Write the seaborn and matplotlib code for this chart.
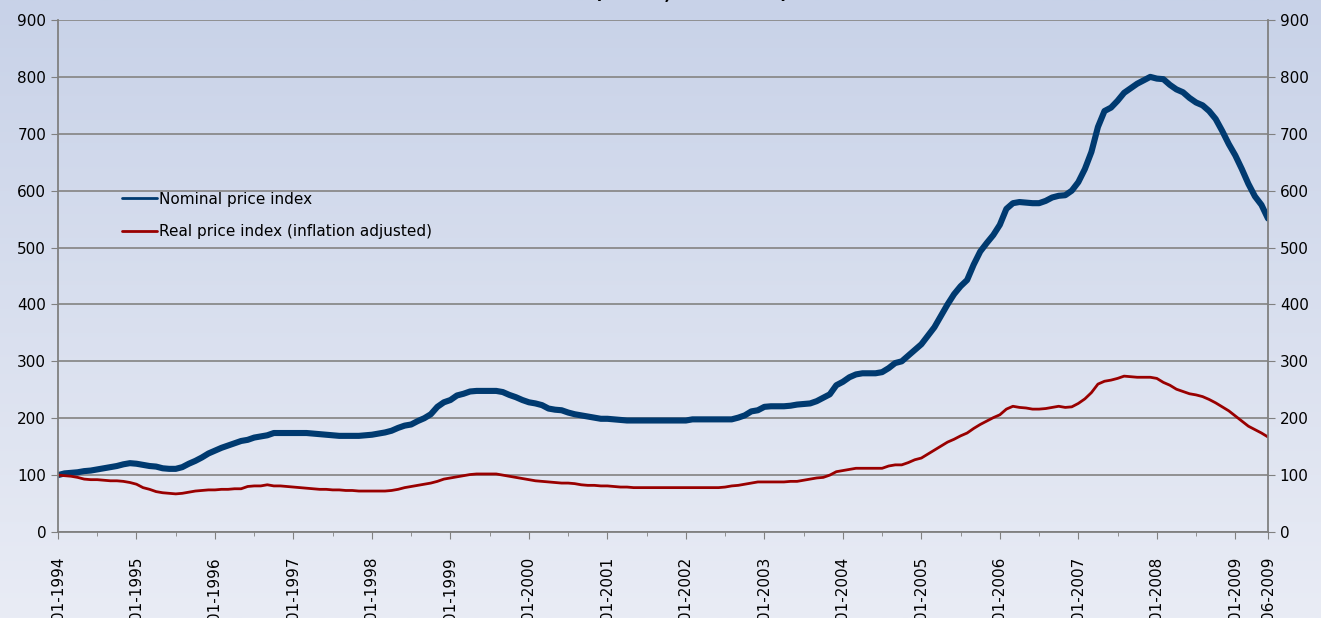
import numpy as np
import pandas as pd
import matplotlib
matplotlib.use("Agg")
import matplotlib.pyplot as plt
import seaborn as sns

# monthly values, 01-1994 .. 06-2009 (index 01-1994 = 100)
nominal = [
    100, 103, 104, 105, 107, 108, 110, 112, 114, 116, 119, 121,   # 1994
    120, 118, 116, 115, 112, 111, 111, 114, 120, 125, 131, 138,   # 1995
    143, 148, 152, 156, 160, 162, 166, 168, 170, 174, 174, 174,   # 1996
    174, 174, 174, 173, 172, 171, 170, 169, 169, 169, 169, 170,   # 1997
    171, 173, 175, 178, 183, 187, 189, 195, 200, 207, 220, 228,   # 1998
    232, 240, 243, 247, 248, 248, 248, 248, 246, 241, 237, 232,   # 1999
    228, 226, 223, 217, 215, 214, 210, 207, 205, 203, 201, 199,   # 2000
    199, 198, 197, 196, 196, 196, 196, 196, 196, 196, 196, 196,   # 2001
    196, 198, 198, 198, 198, 198, 198, 198, 201, 205, 212, 214,   # 2002
    220, 221, 221, 221, 222, 224, 225, 226, 230, 236, 242, 258,   # 2003
    264, 272, 277, 279, 279, 279, 281, 288, 297, 300, 310, 320,   # 2004
    330, 345, 360, 380, 400, 418, 432, 443, 470, 493, 508, 522,   # 2005
    540, 568, 578, 580, 579, 578, 578, 582, 588, 591, 592, 600,   # 2006
    615, 638, 668, 712, 740, 746, 758, 772, 780, 788, 794, 800,   # 2007
    797, 796, 786, 778, 773, 763, 755, 750, 740, 726, 705, 682,   # 2008
    662, 638, 612, 590, 575, 551,                                 # 2009
]
real = [
    100, 99, 98, 96, 93, 92, 92, 91, 90, 90, 89, 87,
    84, 78, 75, 71, 69, 68, 67, 68, 70, 72, 73, 74,
    74, 75, 75, 76, 76, 80, 81, 81, 83, 81, 81, 80,
    79, 78, 77, 76, 75, 75, 74, 74, 73, 73, 72, 72,
    72, 72, 72, 73, 75, 78, 80, 82, 84, 86, 89, 93,
    95, 97, 99, 101, 102, 102, 102, 102, 100, 98, 96, 94,
    92, 90, 89, 88, 87, 86, 86, 85, 83, 82, 82, 81,
    81, 80, 79, 79, 78, 78, 78, 78, 78, 78, 78, 78,
    78, 78, 78, 78, 78, 78, 79, 81, 82, 84, 86, 88,
    88, 88, 88, 88, 89, 89, 91, 93, 95, 96, 100, 106,
    108, 110, 112, 112, 112, 112, 112, 116, 118, 118, 122, 127,
    130, 137, 144, 151, 158, 163, 169, 174, 182, 189, 195, 201,
    206, 216, 221, 219, 218, 216, 216, 217, 219, 221, 219, 220,
    226, 234, 245, 260, 265, 267, 270, 274, 273, 272, 272, 272,
    270, 263, 258, 251, 247, 243, 241, 238, 233, 227, 220, 213,
    204, 195, 186, 180, 174, 167,
]
tick_labels = ["01-1994", "01-1995", "01-1996", "01-1997", "01-1998", "01-1999",
               "01-2000", "01-2001", "01-2002", "01-2003", "01-2004", "01-2005",
               "01-2006", "01-2007", "01-2008", "01-2009", "06-2009"]
tick_months = [0, 12, 24, 36, 48, 60, 72, 84, 96, 108, 120, 132, 144, 156, 168, 180, 185]
labels = ["Nominal price index", "Real price index (inflation adjusted)"]

months = np.arange(len(nominal))
df = pd.DataFrame({"Month": np.concatenate([months, months]),
                   "Index": nominal + real,
                   "Serie": [labels[0]] * len(nominal) + [labels[1]] * len(real)})

sns.set_style("white")
plt.rcParams["font.family"] = ["DejaVu Sans"]
plt.rcParams["text.color"] = "black"
plt.rcParams["xtick.color"] = "black"
plt.rcParams["ytick.color"] = "black"

fig = plt.figure(figsize=(13.21, 6.18), dpi=100)

# gradient background over the whole figure
bg = fig.add_axes([0, 0, 1, 1], zorder=-10)
grad = np.linspace(0, 1, 256).reshape(-1, 1)
cmap = matplotlib.colors.LinearSegmentedColormap.from_list("bg", ["#c8d2e8", "#e9ecf5"])
bg.imshow(grad, aspect="auto", cmap=cmap, extent=[0, 1, 0, 1])
bg.axis("off")

ax = fig.add_axes([58 / 1321, 1 - 532 / 618, 1210 / 1321, 512 / 618])
ax.patch.set_alpha(0)
sns.lineplot(data=df, x="Month", y="Index", hue="Serie", size="Serie",
             palette=["#003a70", "#990000"], sizes=[4.4, 2.0], ax=ax)

ax.set_xlim(0, 185)
ax.set_ylim(0, 900)
ax.set_yticks(range(0, 901, 100))
ax.set_xticks(tick_months)
ax.set_xticklabels(tick_labels, rotation=90, fontsize=11)
ax.set_xticks(np.arange(6, 181, 12), minor=True)
ax.set_xlabel("")
ax.set_ylabel("")
ax.tick_params(axis="y", labelsize=11, length=5, color="#808080", left=True)
ax.tick_params(axis="x", which="major", length=5, color="#808080", bottom=True, pad=13)
ax.tick_params(axis="x", which="minor", length=3, color="#808080", bottom=True)
ax.grid(axis="y", color="#8a8a8a", linewidth=1.3)
ax.set_axisbelow(True)
for side in ["left", "right", "bottom"]:
    ax.spines[side].set_color("#808080")
    ax.spines[side].set_linewidth(1.3)
ax.spines["top"].set_visible(False)

ax2 = ax.twinx()
ax2.set_ylim(0, 900)
ax2.set_yticks(range(0, 901, 100))
ax2.tick_params(axis="y", labelsize=11, length=5, color="#808080", right=True)
for side in ["left", "right", "bottom", "top"]:
    ax2.spines[side].set_visible(False)

leg = ax.legend(title=None, loc="upper left", bbox_to_anchor=(0.053, 0.665), frameon=False,
                fontsize=11, handlelength=2.3, handletextpad=0.1, labelspacing=1.15,
                borderpad=0, borderaxespad=0)
for line in leg.get_lines():
    line.set_linewidth(2.0)

# title sits mostly above the canvas, only the descenders show
fig.text(0.5, 1.0 + 0.5 / 618, "Index (Latvia, 1994=100)", ha="center", va="baseline",
         fontsize=13, fontweight="bold")

fig.savefig("out.png", dpi=100)
